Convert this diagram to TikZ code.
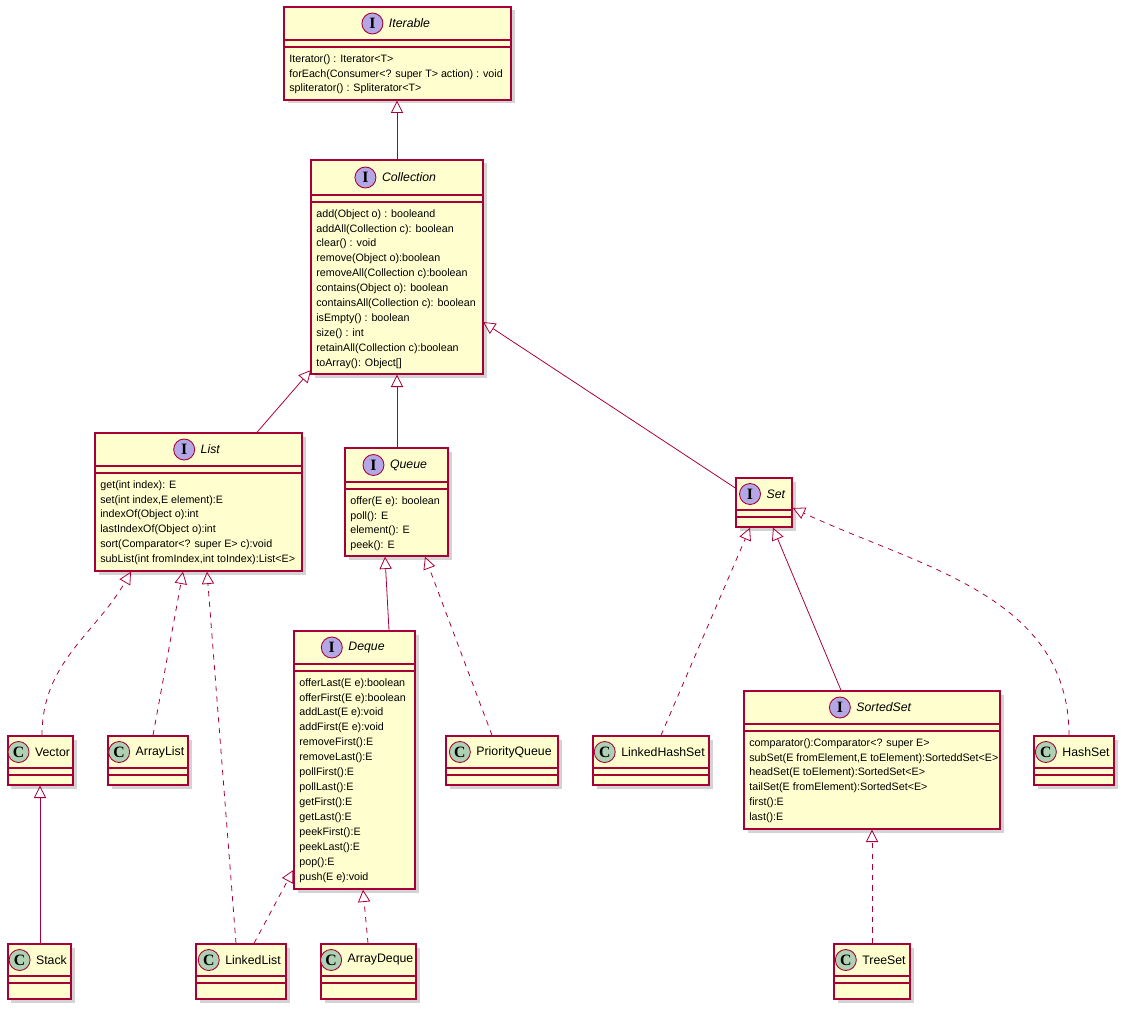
\documentclass[tikz,border=0pt]{standalone}
\usepackage{fontspec}
\setmainfont{Liberation Sans}
\newfontfamily\badgefont{Liberation Serif}
\usetikzlibrary{positioning,fit,shadows,arrows.meta}
\definecolor{umlred}{HTML}{A80036}
\definecolor{umlfill}{HTML}{FEFECE}
\definecolor{ifill}{HTML}{B4A7E5}
\definecolor{cfill}{HTML}{ADD1B2}
\tikzset{
  cls/.style={draw=umlred,fill=umlfill,line width=0.8pt,inner sep=0pt,
    drop shadow={shadow xshift=0.07cm,shadow yshift=-0.07cm,opacity=0.35}},
  umlline/.style={draw=umlred,line width=0.7pt},
  title/.style={font=\fontsize{7}{8.5}\selectfont,inner sep=0pt},
  badgeI/.style={circle,draw=umlred,fill=ifill,minimum size=0.42cm,inner sep=0pt,line width=0.5pt,font=\badgefont\bfseries\small},
  badgeC/.style={badgeI,fill=cfill},
  methods/.style={anchor=north west,align=left,inner sep=0pt,font=\fontsize{6.1}{8.5}\selectfont},
  ext/.style={draw=umlred,line width=0.45pt,-{Triangle[open,length=7pt,width=7pt]}},
  impl/.style={ext,dashed}
}
\newcommand\umlbox[9]{%
  \node[cls,fit={(#2,#3)(#4,#5)}] (#1) {};
  \draw[umlline] (#2,#6) -- (#4,#6) (#2,#6+7) -- (#4,#6+7);
  \node[title] (#1-t) at ({(#2+#4)/2+12},{(#3+#6)/2}) {#8};
  \node[badge#7,left=3pt of #1-t] (#1-b) {#7};
  \node[methods] (#1-m) at (#2+5,#6+14) {#9};
}
\begin{document}
\begin{tikzpicture}[x=0.02cm,y=-0.02cm]
\useasboundingbox (0,0) rectangle (1128,1010);
\umlbox{iterable}{284}{7}{511}{100}{40}{I}{\textit{Iterable}}{Iterator() : Iterator<T>\\forEach(Consumer<? super T> action) : void\\spliterator() : Spliterator<T>}
\umlbox{coll}{311}{160}{483}{374}{195}{I}{\textit{Collection}}{add(Object o) : booleand\\addAll(Collection c): boolean\\clear() : void\\remove(Object o):boolean\\removeAll(Collection c):boolean\\contains(Object o): boolean\\containsAll(Collection c): boolean\\isEmpty() : boolean\\size() : int\\retainAll(Collection c):boolean\\toArray(): Object[]}
\umlbox{list}{95}{433}{302}{571}{466}{I}{\textit{List}}{get(int index): E\\set(int index,E element):E\\indexOf(Object o):int\\lastIndexOf(Object o):int\\sort(Comparator<? super E> c):void\\subList(int fromIndex,int toIndex):List<E>}
\umlbox{queue}{345}{448}{448}{556}{482}{I}{\textit{Queue}}{offer(E e): boolean\\poll(): E\\element(): E\\peek(): E}
\umlbox{set}{736}{478}{792}{527}{510}{I}{\textit{Set}}{}
\umlbox{deque}{294}{631}{415}{889}{664}{I}{\textit{Deque}}{offerLast(E e):boolean\\offerFirst(E e):boolean\\addLast(E e):void\\addFirst(E e):void\\removeFirst():E\\removeLast():E\\pollFirst():E\\pollLast():E\\getFirst():E\\getLast():E\\peekFirst():E\\peekLast():E\\pop():E\\push(E e):void}
\umlbox{sortedset}{744}{691}{1000}{829}{724}{I}{\textit{SortedSet}}{comparator():Comparator<? super E>\\subSet(E fromElement,E toElement):SorteddSet<E>\\headSet(E toElement):SortedSet<E>\\tailSet(E fromElement):SortedSet<E>\\first():E\\last():E}
\umlbox{vector}{8}{736}{73}{785}{768}{C}{Vector}{}
\umlbox{arraylist}{108}{736}{188}{785}{768}{C}{ArrayList}{}
\umlbox{pqueue}{446}{736}{558}{785}{768}{C}{PriorityQueue}{}
\umlbox{lhset}{593}{736}{709}{785}{768}{C}{LinkedHashSet}{}
\umlbox{hashset}{1034}{736}{1114}{785}{768}{C}{HashSet}{}
\umlbox{stack}{8}{944}{71}{999}{976}{C}{Stack}{}
\umlbox{linkedlist}{196}{944}{286}{999}{976}{C}{LinkedList}{}
\umlbox{arraydeque}{321}{944}{416}{999}{976}{C}{ArrayDeque}{}
\umlbox{treeset}{834}{944}{910}{999}{976}{C}{TreeSet}{}
\draw[ext] (coll.north -| 397,0) -- (iterable.south -| 397,0);
\draw[ext] (list.north -| 257,0) -- (311,370);
\draw[ext] (queue.north -| 397,0) -- (coll.south -| 397,0);
\draw[ext] (set.west |- 0,488) -- (483,322);
\draw[ext] (deque.north -| 389,0) -- (queue.south -| 385,0);
\draw[impl] (pqueue.north -| 492,0) -- (queue.south -| 425,0);
\draw[impl] (vector.north -| 42,0) to[out=90,in=-120] (list.south -| 131,0);
\draw[impl] (arraylist.north -| 153,0) -- (list.south -| 183,0);
\draw[impl] (linkedlist.north -| 236,0) -- (list.south -| 207,0);
\draw[impl] (linkedlist.north -| 254,0) -- (deque.west |- 0,870);
\draw[impl] (arraydeque.north -| 368,0) -- (deque.south -| 363,0);
\draw[ext] (stack.north -| 40,0) -- (vector.south -| 40,0);
\draw[impl] (lhset.north -| 661,0) -- (set.south -| 750,0);
\draw[ext] (sortedset.north -| 841,0) -- (set.south -| 773,0);
\draw[impl] (hashset.north -| 1069,0) to[out=90,in=-25] (set.east |- 0,508);
\draw[impl] (treeset.north -| 872,0) -- (sortedset.south -| 872,0);
\end{tikzpicture}
\end{document}
